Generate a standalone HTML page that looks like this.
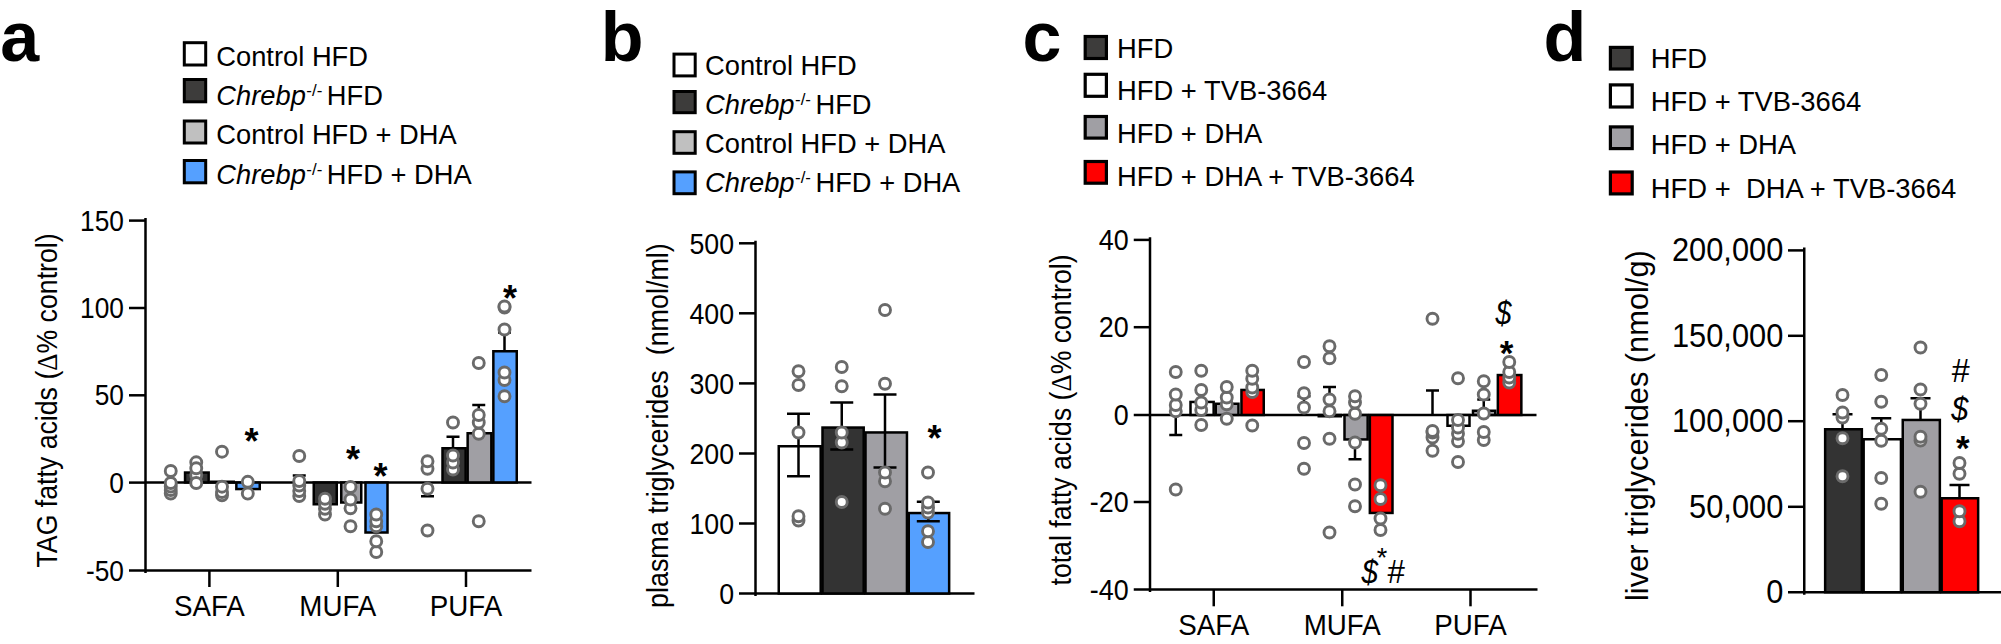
<!DOCTYPE html>
<html><head><meta charset="utf-8"><title>Figure</title>
<style>
html,body{margin:0;padding:0;background:#fff;}
svg{display:block;font-family:"Liberation Sans", sans-serif;fill:#000;}
</style></head><body>
<svg width="2001" height="644" viewBox="0 0 2001 644">
<rect x="0" y="0" width="2001" height="644" fill="#fff"/>
<text x="0.3" y="61" font-size="70" text-anchor="start" font-weight="bold" font-style="normal" >a</text>
<rect x="184.30" y="42.70" width="21.40" height="22.30" fill="#fff" stroke="#000" stroke-width="3"/>
<rect x="184.30" y="79.50" width="21.40" height="22.30" fill="#3d3c3b" stroke="#000" stroke-width="3"/>
<rect x="184.30" y="121.00" width="21.40" height="22.00" fill="#c0c0c0" stroke="#000" stroke-width="3"/>
<rect x="184.30" y="160.50" width="21.40" height="22.30" fill="#55a0ff" stroke="#000" stroke-width="3"/>
<text x="216.3" y="66" font-size="27.3" text-anchor="start" font-weight="normal" font-style="normal" >Control HFD</text>
<text x="216.3" y="104.5" font-size="27.3"><tspan font-style="italic">Chrebp</tspan><tspan font-size="16.9" dy="-9.0" dx="0.5">-/-</tspan><tspan dy="9.0" dx="4.5">HFD</tspan></text>
<text x="216.3" y="144" font-size="27.3" text-anchor="start" font-weight="normal" font-style="normal" >Control HFD + DHA</text>
<text x="216.3" y="183.5" font-size="27.3"><tspan font-style="italic">Chrebp</tspan><tspan font-size="16.9" dy="-9.0" dx="0.5">-/-</tspan><tspan dy="9.0" dx="4.5">HFD + DHA</tspan></text>
<line x1="145.5" y1="218" x2="145.5" y2="573" stroke="#000" stroke-width="2.5"/>
<line x1="129" y1="570.5" x2="531.5" y2="570.5" stroke="#000" stroke-width="2.5"/>
<line x1="129" y1="220.6" x2="145.5" y2="220.6" stroke="#000" stroke-width="2.5"/>
<text transform="translate(124,230.6) scale(0.92,1)" font-size="28.6" text-anchor="end" font-weight="normal" font-style="normal" >150</text>
<line x1="129" y1="308" x2="145.5" y2="308" stroke="#000" stroke-width="2.5"/>
<text transform="translate(124,318) scale(0.92,1)" font-size="28.6" text-anchor="end" font-weight="normal" font-style="normal" >100</text>
<line x1="129" y1="395.3" x2="145.5" y2="395.3" stroke="#000" stroke-width="2.5"/>
<text transform="translate(124,405.3) scale(0.92,1)" font-size="28.6" text-anchor="end" font-weight="normal" font-style="normal" >50</text>
<line x1="129" y1="482.6" x2="145.5" y2="482.6" stroke="#000" stroke-width="2.5"/>
<text transform="translate(124,492.6) scale(0.92,1)" font-size="28.6" text-anchor="end" font-weight="normal" font-style="normal" >0</text>
<text transform="translate(124,580.7) scale(0.92,1)" font-size="28.6" text-anchor="end" font-weight="normal" font-style="normal" >-50</text>
<line x1="145.5" y1="482.5" x2="531.5" y2="482.5" stroke="#000" stroke-width="2.5"/>
<line x1="209.4" y1="570.5" x2="209.4" y2="587" stroke="#000" stroke-width="2.5"/>
<text transform="translate(209.4,615.5) scale(0.967,1)" font-size="28.7" text-anchor="middle" font-weight="normal" font-style="normal" >SAFA</text>
<line x1="337.8" y1="570.5" x2="337.8" y2="587" stroke="#000" stroke-width="2.5"/>
<text transform="translate(337.8,615.5) scale(0.967,1)" font-size="28.7" text-anchor="middle" font-weight="normal" font-style="normal" >MUFA</text>
<line x1="466" y1="570.5" x2="466" y2="587" stroke="#000" stroke-width="2.5"/>
<text transform="translate(466,615.5) scale(0.967,1)" font-size="28.7" text-anchor="middle" font-weight="normal" font-style="normal" >PUFA</text>
<text transform="translate(56.7,567.5) rotate(-90) scale(0.921,1)" font-size="29" xml:space="preserve" >TAG fatty acids (<tspan font-family="Liberation Serif, serif">Δ</tspan>% control)</text>
<rect x="185.05" y="472.55" width="23.60" height="9.90" fill="#333333" stroke="#000" stroke-width="2.5"/>
<rect x="211.25" y="481.75" width="22.50" height="0.70" fill="#a09fa4" stroke="#000" stroke-width="2.5"/>
<rect x="236.35" y="482.55" width="23.40" height="6.50" fill="#55a0ff" stroke="#000" stroke-width="2.5"/>
<circle cx="170.75" cy="493.5" r="5.5" fill="#fff" stroke="#6a6a6a" stroke-width="2.9"/>
<circle cx="170.75" cy="490" r="5.5" fill="#fff" stroke="#6a6a6a" stroke-width="2.9"/>
<circle cx="170.75" cy="486.5" r="5.5" fill="#fff" stroke="#6a6a6a" stroke-width="2.9"/>
<circle cx="170.75" cy="483" r="5.5" fill="#fff" stroke="#6a6a6a" stroke-width="2.9"/>
<circle cx="170.75" cy="471" r="5.5" fill="#fff" stroke="#6a6a6a" stroke-width="2.9"/>
<circle cx="196.25" cy="462.3" r="5.5" fill="#fff" stroke="#6a6a6a" stroke-width="2.9"/>
<circle cx="196.25" cy="475" r="5.5" fill="#fff" stroke="#6a6a6a" stroke-width="2.9"/>
<circle cx="196.25" cy="468.3" r="5.5" fill="#fff" stroke="#6a6a6a" stroke-width="2.9"/>
<circle cx="196.25" cy="483" r="5.5" fill="#fff" stroke="#6a6a6a" stroke-width="2.9"/>
<circle cx="222" cy="495.3" r="5.5" fill="#fff" stroke="#6a6a6a" stroke-width="2.9"/>
<circle cx="222" cy="492" r="5.5" fill="#fff" stroke="#6a6a6a" stroke-width="2.9"/>
<circle cx="222" cy="486.7" r="5.5" fill="#fff" stroke="#6a6a6a" stroke-width="2.9"/>
<circle cx="222" cy="451.7" r="5.5" fill="#fff" stroke="#6a6a6a" stroke-width="2.9"/>
<circle cx="247.8" cy="493.6" r="5.5" fill="#fff" stroke="#6a6a6a" stroke-width="2.9"/>
<circle cx="247.8" cy="481.8" r="5.5" fill="#fff" stroke="#6a6a6a" stroke-width="2.9"/>
<line x1="299.25" y1="475.5" x2="299.25" y2="482.5" stroke="#000" stroke-width="2.5"/>
<line x1="292.75" y1="475.5" x2="305.75" y2="475.5" stroke="#000" stroke-width="2.5"/>
<rect x="313.75" y="482.55" width="23.00" height="21.70" fill="#333333" stroke="#000" stroke-width="2.5"/>
<rect x="341.25" y="482.55" width="20.00" height="19.95" fill="#a09fa4" stroke="#000" stroke-width="2.5"/>
<rect x="365.50" y="482.55" width="22.00" height="49.95" fill="#55a0ff" stroke="#000" stroke-width="2.5"/>
<circle cx="299.25" cy="496" r="5.5" fill="#fff" stroke="#6a6a6a" stroke-width="2.9"/>
<circle cx="299.25" cy="491" r="5.5" fill="#fff" stroke="#6a6a6a" stroke-width="2.9"/>
<circle cx="299.25" cy="485.5" r="5.5" fill="#fff" stroke="#6a6a6a" stroke-width="2.9"/>
<circle cx="299.25" cy="481" r="5.5" fill="#fff" stroke="#6a6a6a" stroke-width="2.9"/>
<circle cx="299.25" cy="456" r="5.5" fill="#fff" stroke="#6a6a6a" stroke-width="2.9"/>
<circle cx="325" cy="514.5" r="5.5" fill="#fff" stroke="#6a6a6a" stroke-width="2.9"/>
<circle cx="325" cy="508.75" r="5.5" fill="#fff" stroke="#6a6a6a" stroke-width="2.9"/>
<circle cx="325" cy="503.75" r="5.5" fill="#fff" stroke="#6a6a6a" stroke-width="2.9"/>
<circle cx="325" cy="498.75" r="5.5" fill="#fff" stroke="#6a6a6a" stroke-width="2.9"/>
<circle cx="350.5" cy="526.25" r="5.5" fill="#fff" stroke="#6a6a6a" stroke-width="2.9"/>
<circle cx="350.5" cy="508.25" r="5.5" fill="#fff" stroke="#6a6a6a" stroke-width="2.9"/>
<circle cx="350.5" cy="499.5" r="5.5" fill="#fff" stroke="#6a6a6a" stroke-width="2.9"/>
<circle cx="350.5" cy="487" r="5.5" fill="#fff" stroke="#6a6a6a" stroke-width="2.9"/>
<circle cx="376.25" cy="552" r="5.5" fill="#fff" stroke="#6a6a6a" stroke-width="2.9"/>
<circle cx="376.25" cy="541.25" r="5.5" fill="#fff" stroke="#6a6a6a" stroke-width="2.9"/>
<circle cx="376.25" cy="526.25" r="5.5" fill="#fff" stroke="#6a6a6a" stroke-width="2.9"/>
<circle cx="376.25" cy="521.25" r="5.5" fill="#fff" stroke="#6a6a6a" stroke-width="2.9"/>
<circle cx="376.25" cy="514.5" r="5.5" fill="#fff" stroke="#6a6a6a" stroke-width="2.9"/>
<line x1="427.5" y1="482.5" x2="427.5" y2="496.25" stroke="#000" stroke-width="2.5"/>
<line x1="421.0" y1="496.25" x2="434.0" y2="496.25" stroke="#000" stroke-width="2.5"/>
<line x1="453" y1="436.75" x2="453" y2="447" stroke="#000" stroke-width="2.5"/>
<line x1="446.5" y1="436.75" x2="459.5" y2="436.75" stroke="#000" stroke-width="2.5"/>
<rect x="442.50" y="448.25" width="23.15" height="34.20" fill="#333333" stroke="#000" stroke-width="2.5"/>
<line x1="478.75" y1="405" x2="478.75" y2="432" stroke="#000" stroke-width="2.5"/>
<line x1="472.25" y1="405" x2="485.25" y2="405" stroke="#000" stroke-width="2.5"/>
<rect x="467.65" y="433.25" width="23.70" height="49.20" fill="#a09fa4" stroke="#000" stroke-width="2.5"/>
<line x1="504.5" y1="332.5" x2="504.5" y2="350" stroke="#000" stroke-width="2.5"/>
<line x1="498.0" y1="332.5" x2="511.0" y2="332.5" stroke="#000" stroke-width="2.5"/>
<rect x="493.35" y="351.25" width="23.40" height="131.20" fill="#55a0ff" stroke="#000" stroke-width="2.5"/>
<circle cx="427.5" cy="530.5" r="5.5" fill="#fff" stroke="#6a6a6a" stroke-width="2.9"/>
<circle cx="427.5" cy="488.75" r="5.5" fill="#fff" stroke="#6a6a6a" stroke-width="2.9"/>
<circle cx="427.5" cy="468.75" r="5.5" fill="#fff" stroke="#6a6a6a" stroke-width="2.9"/>
<circle cx="427.5" cy="461.25" r="5.5" fill="#fff" stroke="#6a6a6a" stroke-width="2.9"/>
<circle cx="453" cy="469.5" r="5.5" fill="#fff" stroke="#6a6a6a" stroke-width="2.9"/>
<circle cx="453" cy="462.5" r="5.5" fill="#fff" stroke="#6a6a6a" stroke-width="2.9"/>
<circle cx="453" cy="455.5" r="5.5" fill="#fff" stroke="#6a6a6a" stroke-width="2.9"/>
<circle cx="453" cy="422.5" r="5.5" fill="#fff" stroke="#6a6a6a" stroke-width="2.9"/>
<circle cx="478.75" cy="521.25" r="5.5" fill="#fff" stroke="#6a6a6a" stroke-width="2.9"/>
<circle cx="478.75" cy="433.75" r="5.5" fill="#fff" stroke="#6a6a6a" stroke-width="2.9"/>
<circle cx="478.75" cy="422.5" r="5.5" fill="#fff" stroke="#6a6a6a" stroke-width="2.9"/>
<circle cx="478.75" cy="415" r="5.5" fill="#fff" stroke="#6a6a6a" stroke-width="2.9"/>
<circle cx="478.75" cy="363" r="5.5" fill="#fff" stroke="#6a6a6a" stroke-width="2.9"/>
<circle cx="504.5" cy="396.25" r="5.5" fill="#fff" stroke="#6a6a6a" stroke-width="2.9"/>
<circle cx="504.5" cy="380" r="5.5" fill="#fff" stroke="#6a6a6a" stroke-width="2.9"/>
<circle cx="504.5" cy="372.5" r="5.5" fill="#fff" stroke="#6a6a6a" stroke-width="2.9"/>
<circle cx="504.5" cy="329.5" r="5.5" fill="#fff" stroke="#6a6a6a" stroke-width="2.9"/>
<circle cx="504.5" cy="307.5" r="5.5" fill="#fff" stroke="#6a6a6a" stroke-width="2.9"/>
<circle cx="504.5" cy="306.5" r="5.5" fill="#fff" stroke="#6a6a6a" stroke-width="2.9"/>
<text x="251.5" y="454" font-size="36" text-anchor="middle" font-weight="bold" font-style="normal" >*</text>
<text x="353" y="472" font-size="36" text-anchor="middle" font-weight="bold" font-style="normal" >*</text>
<text x="380.5" y="489" font-size="36" text-anchor="middle" font-weight="bold" font-style="normal" >*</text>
<text x="510" y="311" font-size="36" text-anchor="middle" font-weight="bold" font-style="normal" >*</text>
<text x="600.7" y="60.7" font-size="70" text-anchor="start" font-weight="bold" font-style="normal" >b</text>
<rect x="674.00" y="54.10" width="21.20" height="21.80" fill="#fff" stroke="#000" stroke-width="3"/>
<rect x="674.00" y="91.50" width="21.20" height="21.20" fill="#3d3c3b" stroke="#000" stroke-width="3"/>
<rect x="674.00" y="131.70" width="21.20" height="21.60" fill="#c0c0c0" stroke="#000" stroke-width="3"/>
<rect x="674.00" y="171.90" width="21.20" height="21.80" fill="#55a0ff" stroke="#000" stroke-width="3"/>
<text x="705" y="75" font-size="27.3" text-anchor="start" font-weight="normal" font-style="normal" >Control HFD</text>
<text x="705" y="114" font-size="27.3"><tspan font-style="italic">Chrebp</tspan><tspan font-size="16.9" dy="-9.0" dx="0.5">-/-</tspan><tspan dy="9.0" dx="4.5">HFD</tspan></text>
<text x="705" y="152.5" font-size="27.3" text-anchor="start" font-weight="normal" font-style="normal" >Control HFD + DHA</text>
<text x="705" y="192" font-size="27.3"><tspan font-style="italic">Chrebp</tspan><tspan font-size="16.9" dy="-9.0" dx="0.5">-/-</tspan><tspan dy="9.0" dx="4.5">HFD + DHA</tspan></text>
<line x1="755.5" y1="240.8" x2="755.5" y2="596" stroke="#000" stroke-width="2.5"/>
<line x1="739" y1="593.5" x2="974.5" y2="593.5" stroke="#000" stroke-width="2.5"/>
<line x1="739" y1="243.3" x2="755.5" y2="243.3" stroke="#000" stroke-width="2.5"/>
<text transform="translate(734,253.5) scale(0.935,1)" font-size="28.6" text-anchor="end" font-weight="normal" font-style="normal" >500</text>
<line x1="739" y1="313.3" x2="755.5" y2="313.3" stroke="#000" stroke-width="2.5"/>
<text transform="translate(734,323.5) scale(0.935,1)" font-size="28.6" text-anchor="end" font-weight="normal" font-style="normal" >400</text>
<line x1="739" y1="383.4" x2="755.5" y2="383.4" stroke="#000" stroke-width="2.5"/>
<text transform="translate(734,393.59999999999997) scale(0.935,1)" font-size="28.6" text-anchor="end" font-weight="normal" font-style="normal" >300</text>
<line x1="739" y1="453.5" x2="755.5" y2="453.5" stroke="#000" stroke-width="2.5"/>
<text transform="translate(734,463.7) scale(0.935,1)" font-size="28.6" text-anchor="end" font-weight="normal" font-style="normal" >200</text>
<line x1="739" y1="523.5" x2="755.5" y2="523.5" stroke="#000" stroke-width="2.5"/>
<text transform="translate(734,533.7) scale(0.935,1)" font-size="28.6" text-anchor="end" font-weight="normal" font-style="normal" >100</text>
<text transform="translate(734,603.7) scale(0.935,1)" font-size="28.6" text-anchor="end" font-weight="normal" font-style="normal" >0</text>
<text transform="translate(668,608) rotate(-90) scale(0.928,1)" font-size="29" xml:space="preserve" >plasma triglycerides  (nmol/ml)</text>
<rect x="778.75" y="446.25" width="41.95" height="147.25" fill="#fff" stroke="#000" stroke-width="2.5"/>
<rect x="822.50" y="427.55" width="41.20" height="165.95" fill="#333333" stroke="#000" stroke-width="2.5"/>
<rect x="865.50" y="432.45" width="41.45" height="161.05" fill="#a09fa4" stroke="#000" stroke-width="2.5"/>
<rect x="908.75" y="513.05" width="40.40" height="80.45" fill="#55a0ff" stroke="#000" stroke-width="2.5"/>
<line x1="798.5" y1="413.75" x2="798.5" y2="476.25" stroke="#000" stroke-width="2.5"/>
<line x1="787.0" y1="413.75" x2="810.0" y2="413.75" stroke="#000" stroke-width="2.5"/>
<line x1="787.0" y1="476.25" x2="810.0" y2="476.25" stroke="#000" stroke-width="2.5"/>
<line x1="841.75" y1="402.5" x2="841.75" y2="449.5" stroke="#000" stroke-width="2.5"/>
<line x1="830.25" y1="402.5" x2="853.25" y2="402.5" stroke="#000" stroke-width="2.5"/>
<line x1="830.25" y1="449.5" x2="853.25" y2="449.5" stroke="#000" stroke-width="2.5"/>
<line x1="885" y1="394.5" x2="885" y2="467.5" stroke="#000" stroke-width="2.5"/>
<line x1="873.5" y1="394.5" x2="896.5" y2="394.5" stroke="#000" stroke-width="2.5"/>
<line x1="873.5" y1="467.5" x2="896.5" y2="467.5" stroke="#000" stroke-width="2.5"/>
<line x1="928.3" y1="501.75" x2="928.3" y2="521.25" stroke="#000" stroke-width="2.5"/>
<line x1="916.8" y1="501.75" x2="939.8" y2="501.75" stroke="#000" stroke-width="2.5"/>
<line x1="916.8" y1="521.25" x2="939.8" y2="521.25" stroke="#000" stroke-width="2.5"/>
<circle cx="798.5" cy="520.5" r="5.5" fill="#fff" stroke="#6a6a6a" stroke-width="2.9"/>
<circle cx="798.5" cy="516.25" r="5.5" fill="#fff" stroke="#6a6a6a" stroke-width="2.9"/>
<circle cx="798.5" cy="432.5" r="5.5" fill="#fff" stroke="#6a6a6a" stroke-width="2.9"/>
<circle cx="798.5" cy="385" r="5.5" fill="#fff" stroke="#6a6a6a" stroke-width="2.9"/>
<circle cx="798.5" cy="371.25" r="5.5" fill="#fff" stroke="#6a6a6a" stroke-width="2.9"/>
<circle cx="841.75" cy="502" r="5.5" fill="#fff" stroke="#6a6a6a" stroke-width="2.9"/>
<circle cx="841.75" cy="442.5" r="5.5" fill="#fff" stroke="#6a6a6a" stroke-width="2.9"/>
<circle cx="841.75" cy="432.5" r="5.5" fill="#fff" stroke="#6a6a6a" stroke-width="2.9"/>
<circle cx="841.75" cy="386.25" r="5.5" fill="#fff" stroke="#6a6a6a" stroke-width="2.9"/>
<circle cx="841.75" cy="367" r="5.5" fill="#fff" stroke="#6a6a6a" stroke-width="2.9"/>
<circle cx="885" cy="508.75" r="5.5" fill="#fff" stroke="#6a6a6a" stroke-width="2.9"/>
<circle cx="885" cy="481.25" r="5.5" fill="#fff" stroke="#6a6a6a" stroke-width="2.9"/>
<circle cx="885" cy="472.5" r="5.5" fill="#fff" stroke="#6a6a6a" stroke-width="2.9"/>
<circle cx="885" cy="383.75" r="5.5" fill="#fff" stroke="#6a6a6a" stroke-width="2.9"/>
<circle cx="885" cy="310" r="5.5" fill="#fff" stroke="#6a6a6a" stroke-width="2.9"/>
<circle cx="928" cy="542" r="5.5" fill="#fff" stroke="#6a6a6a" stroke-width="2.9"/>
<circle cx="928" cy="531.25" r="5.5" fill="#fff" stroke="#6a6a6a" stroke-width="2.9"/>
<circle cx="928" cy="512.5" r="5.5" fill="#fff" stroke="#6a6a6a" stroke-width="2.9"/>
<circle cx="928" cy="507.5" r="5.5" fill="#fff" stroke="#6a6a6a" stroke-width="2.9"/>
<circle cx="928" cy="502.5" r="5.5" fill="#fff" stroke="#6a6a6a" stroke-width="2.9"/>
<circle cx="928" cy="472.5" r="5.5" fill="#fff" stroke="#6a6a6a" stroke-width="2.9"/>
<text x="934.5" y="451" font-size="36" text-anchor="middle" font-weight="bold" font-style="normal" >*</text>
<text x="1022.6" y="60.5" font-size="70" text-anchor="start" font-weight="bold" font-style="normal" >c</text>
<rect x="1085.20" y="36.50" width="21.20" height="22.00" fill="#3d3c3b" stroke="#000" stroke-width="3.2"/>
<rect x="1085.20" y="74.30" width="21.20" height="22.00" fill="#fff" stroke="#000" stroke-width="3.2"/>
<rect x="1085.20" y="116.50" width="21.20" height="21.60" fill="#a09fa4" stroke="#000" stroke-width="3.2"/>
<rect x="1085.20" y="161.50" width="21.20" height="21.70" fill="#ff0000" stroke="#000" stroke-width="3.2"/>
<text transform="translate(1117,57.8) scale(0.985,1)" font-size="27.8" text-anchor="start" font-weight="normal" font-style="normal" >HFD</text>
<text transform="translate(1117,99.8) scale(0.985,1)" font-size="27.8" text-anchor="start" font-weight="normal" font-style="normal" >HFD + TVB-3664</text>
<text transform="translate(1117,142.7) scale(0.985,1)" font-size="27.8" text-anchor="start" font-weight="normal" font-style="normal" >HFD + DHA</text>
<text transform="translate(1117,186.3) scale(0.985,1)" font-size="27.8" text-anchor="start" font-weight="normal" font-style="normal" >HFD + DHA + TVB-3664</text>
<line x1="1150" y1="237.2" x2="1150" y2="592" stroke="#000" stroke-width="2.5"/>
<line x1="1133.75" y1="589.5" x2="1537.5" y2="589.5" stroke="#000" stroke-width="2.5"/>
<line x1="1133.75" y1="239.9" x2="1150" y2="239.9" stroke="#000" stroke-width="2.5"/>
<text transform="translate(1128.7,250.1) scale(0.94,1)" font-size="28.6" text-anchor="end" font-weight="normal" font-style="normal" >40</text>
<line x1="1133.75" y1="327.2" x2="1150" y2="327.2" stroke="#000" stroke-width="2.5"/>
<text transform="translate(1128.7,337.4) scale(0.94,1)" font-size="28.6" text-anchor="end" font-weight="normal" font-style="normal" >20</text>
<line x1="1133.75" y1="415" x2="1150" y2="415" stroke="#000" stroke-width="2.5"/>
<text transform="translate(1128.7,425.2) scale(0.94,1)" font-size="28.6" text-anchor="end" font-weight="normal" font-style="normal" >0</text>
<line x1="1133.75" y1="502" x2="1150" y2="502" stroke="#000" stroke-width="2.5"/>
<text transform="translate(1128.7,512.2) scale(0.94,1)" font-size="28.6" text-anchor="end" font-weight="normal" font-style="normal" >-20</text>
<text transform="translate(1128.7,599.7) scale(0.94,1)" font-size="28.6" text-anchor="end" font-weight="normal" font-style="normal" >-40</text>
<line x1="1150" y1="415" x2="1536.5" y2="415" stroke="#000" stroke-width="2.5"/>
<line x1="1213.75" y1="589.5" x2="1213.75" y2="606.3" stroke="#000" stroke-width="2.5"/>
<text transform="translate(1213.75,635) scale(0.967,1)" font-size="28.7" text-anchor="middle" font-weight="normal" font-style="normal" >SAFA</text>
<line x1="1342.25" y1="589.5" x2="1342.25" y2="606.3" stroke="#000" stroke-width="2.5"/>
<text transform="translate(1342.25,635) scale(0.967,1)" font-size="28.7" text-anchor="middle" font-weight="normal" font-style="normal" >MUFA</text>
<line x1="1470.5" y1="589.5" x2="1470.5" y2="606.3" stroke="#000" stroke-width="2.5"/>
<text transform="translate(1470.5,635) scale(0.967,1)" font-size="28.7" text-anchor="middle" font-weight="normal" font-style="normal" >PUFA</text>
<text transform="translate(1071,585.5) rotate(-90) scale(0.919,1)" font-size="29" xml:space="preserve" >total fatty acids (<tspan font-family="Liberation Serif, serif">Δ</tspan>% control)</text>
<line x1="1175.75" y1="415" x2="1175.75" y2="435" stroke="#000" stroke-width="2.5"/>
<line x1="1169.25" y1="435" x2="1182.25" y2="435" stroke="#000" stroke-width="2.5"/>
<rect x="1190.50" y="401.95" width="23.15" height="13.00" fill="#fff" stroke="#000" stroke-width="2.5"/>
<rect x="1215.75" y="403.75" width="22.70" height="11.20" fill="#a09fa4" stroke="#000" stroke-width="2.5"/>
<rect x="1241.45" y="389.95" width="22.30" height="25.00" fill="#ff0000" stroke="#000" stroke-width="2.5"/>
<circle cx="1175.75" cy="489.5" r="5.5" fill="#fff" stroke="#6a6a6a" stroke-width="2.9"/>
<circle cx="1175.75" cy="411.25" r="5.5" fill="#fff" stroke="#6a6a6a" stroke-width="2.9"/>
<circle cx="1175.75" cy="405" r="5.5" fill="#fff" stroke="#6a6a6a" stroke-width="2.9"/>
<circle cx="1175.75" cy="394.5" r="5.5" fill="#fff" stroke="#6a6a6a" stroke-width="2.9"/>
<circle cx="1175.75" cy="372" r="5.5" fill="#fff" stroke="#6a6a6a" stroke-width="2.9"/>
<circle cx="1201.25" cy="425" r="5.5" fill="#fff" stroke="#6a6a6a" stroke-width="2.9"/>
<circle cx="1201.25" cy="410" r="5.5" fill="#fff" stroke="#6a6a6a" stroke-width="2.9"/>
<circle cx="1201.25" cy="402.5" r="5.5" fill="#fff" stroke="#6a6a6a" stroke-width="2.9"/>
<circle cx="1201.25" cy="390" r="5.5" fill="#fff" stroke="#6a6a6a" stroke-width="2.9"/>
<circle cx="1201.25" cy="370.75" r="5.5" fill="#fff" stroke="#6a6a6a" stroke-width="2.9"/>
<circle cx="1226.75" cy="418.75" r="5.5" fill="#fff" stroke="#6a6a6a" stroke-width="2.9"/>
<circle cx="1226.75" cy="404.25" r="5.5" fill="#fff" stroke="#6a6a6a" stroke-width="2.9"/>
<circle cx="1226.75" cy="397.5" r="5.5" fill="#fff" stroke="#6a6a6a" stroke-width="2.9"/>
<circle cx="1226.75" cy="387" r="5.5" fill="#fff" stroke="#6a6a6a" stroke-width="2.9"/>
<circle cx="1252.25" cy="425.5" r="5.5" fill="#fff" stroke="#6a6a6a" stroke-width="2.9"/>
<circle cx="1252.25" cy="392" r="5.5" fill="#fff" stroke="#6a6a6a" stroke-width="2.9"/>
<circle cx="1252.25" cy="387.5" r="5.5" fill="#fff" stroke="#6a6a6a" stroke-width="2.9"/>
<circle cx="1252.25" cy="378.75" r="5.5" fill="#fff" stroke="#6a6a6a" stroke-width="2.9"/>
<circle cx="1252.25" cy="370.75" r="5.5" fill="#fff" stroke="#6a6a6a" stroke-width="2.9"/>
<line x1="1304" y1="396.25" x2="1304" y2="415" stroke="#000" stroke-width="2.5"/>
<line x1="1297.5" y1="396.25" x2="1310.5" y2="396.25" stroke="#000" stroke-width="2.5"/>
<line x1="1329.5" y1="387" x2="1329.5" y2="415" stroke="#000" stroke-width="2.5"/>
<line x1="1323.0" y1="387" x2="1336.0" y2="387" stroke="#000" stroke-width="2.5"/>
<rect x="1318.75" y="415.05" width="22.00" height="1.20" fill="#fff" stroke="#000" stroke-width="2.5"/>
<line x1="1355" y1="439.5" x2="1355" y2="459.25" stroke="#000" stroke-width="2.5"/>
<line x1="1348.5" y1="459.25" x2="1361.5" y2="459.25" stroke="#000" stroke-width="2.5"/>
<rect x="1344.50" y="415.05" width="23.15" height="24.40" fill="#a09fa4" stroke="#000" stroke-width="2.5"/>
<rect x="1369.85" y="415.05" width="22.65" height="97.90" fill="#ff0000" stroke="#000" stroke-width="2.5"/>
<circle cx="1304" cy="468.75" r="5.5" fill="#fff" stroke="#6a6a6a" stroke-width="2.9"/>
<circle cx="1304" cy="443" r="5.5" fill="#fff" stroke="#6a6a6a" stroke-width="2.9"/>
<circle cx="1304" cy="407.5" r="5.5" fill="#fff" stroke="#6a6a6a" stroke-width="2.9"/>
<circle cx="1304" cy="393.25" r="5.5" fill="#fff" stroke="#6a6a6a" stroke-width="2.9"/>
<circle cx="1304" cy="362" r="5.5" fill="#fff" stroke="#6a6a6a" stroke-width="2.9"/>
<circle cx="1329.5" cy="532.5" r="5.5" fill="#fff" stroke="#6a6a6a" stroke-width="2.9"/>
<circle cx="1329.5" cy="438.75" r="5.5" fill="#fff" stroke="#6a6a6a" stroke-width="2.9"/>
<circle cx="1329.5" cy="411.25" r="5.5" fill="#fff" stroke="#6a6a6a" stroke-width="2.9"/>
<circle cx="1329.5" cy="399.5" r="5.5" fill="#fff" stroke="#6a6a6a" stroke-width="2.9"/>
<circle cx="1329.5" cy="358.25" r="5.5" fill="#fff" stroke="#6a6a6a" stroke-width="2.9"/>
<circle cx="1329.5" cy="346.25" r="5.5" fill="#fff" stroke="#6a6a6a" stroke-width="2.9"/>
<circle cx="1355" cy="506.25" r="5.5" fill="#fff" stroke="#6a6a6a" stroke-width="2.9"/>
<circle cx="1355" cy="484.5" r="5.5" fill="#fff" stroke="#6a6a6a" stroke-width="2.9"/>
<circle cx="1355" cy="442.5" r="5.5" fill="#fff" stroke="#6a6a6a" stroke-width="2.9"/>
<circle cx="1355" cy="413.75" r="5.5" fill="#fff" stroke="#6a6a6a" stroke-width="2.9"/>
<circle cx="1355" cy="402.5" r="5.5" fill="#fff" stroke="#6a6a6a" stroke-width="2.9"/>
<circle cx="1355" cy="396.25" r="5.5" fill="#fff" stroke="#6a6a6a" stroke-width="2.9"/>
<circle cx="1380.5" cy="530" r="5.5" fill="#fff" stroke="#6a6a6a" stroke-width="2.9"/>
<circle cx="1380.5" cy="518.5" r="5.5" fill="#fff" stroke="#6a6a6a" stroke-width="2.9"/>
<circle cx="1380.5" cy="499" r="5.5" fill="#fff" stroke="#6a6a6a" stroke-width="2.9"/>
<circle cx="1380.5" cy="485.25" r="5.5" fill="#fff" stroke="#6a6a6a" stroke-width="2.9"/>
<line x1="1432.5" y1="390.5" x2="1432.5" y2="415" stroke="#000" stroke-width="2.5"/>
<line x1="1426.0" y1="390.5" x2="1439.0" y2="390.5" stroke="#000" stroke-width="2.5"/>
<rect x="1447.50" y="415.05" width="22.00" height="10.70" fill="#fff" stroke="#000" stroke-width="2.5"/>
<line x1="1483.75" y1="399.5" x2="1483.75" y2="410" stroke="#000" stroke-width="2.5"/>
<line x1="1477.25" y1="399.5" x2="1490.25" y2="399.5" stroke="#000" stroke-width="2.5"/>
<rect x="1473.00" y="410.75" width="22.25" height="4.20" fill="#a09fa4" stroke="#000" stroke-width="2.5"/>
<rect x="1497.85" y="375.05" width="23.50" height="39.90" fill="#ff0000" stroke="#000" stroke-width="2.5"/>
<circle cx="1432.5" cy="450.75" r="5.5" fill="#fff" stroke="#6a6a6a" stroke-width="2.9"/>
<circle cx="1432.5" cy="437.5" r="5.5" fill="#fff" stroke="#6a6a6a" stroke-width="2.9"/>
<circle cx="1432.5" cy="432.5" r="5.5" fill="#fff" stroke="#6a6a6a" stroke-width="2.9"/>
<circle cx="1432.5" cy="431" r="5.5" fill="#fff" stroke="#6a6a6a" stroke-width="2.9"/>
<circle cx="1432.5" cy="318.75" r="5.5" fill="#fff" stroke="#6a6a6a" stroke-width="2.9"/>
<circle cx="1458" cy="462" r="5.5" fill="#fff" stroke="#6a6a6a" stroke-width="2.9"/>
<circle cx="1458" cy="441.25" r="5.5" fill="#fff" stroke="#6a6a6a" stroke-width="2.9"/>
<circle cx="1458" cy="433.75" r="5.5" fill="#fff" stroke="#6a6a6a" stroke-width="2.9"/>
<circle cx="1458" cy="427.5" r="5.5" fill="#fff" stroke="#6a6a6a" stroke-width="2.9"/>
<circle cx="1458" cy="420" r="5.5" fill="#fff" stroke="#6a6a6a" stroke-width="2.9"/>
<circle cx="1458" cy="378.25" r="5.5" fill="#fff" stroke="#6a6a6a" stroke-width="2.9"/>
<circle cx="1483.75" cy="440" r="5.5" fill="#fff" stroke="#6a6a6a" stroke-width="2.9"/>
<circle cx="1483.75" cy="432" r="5.5" fill="#fff" stroke="#6a6a6a" stroke-width="2.9"/>
<circle cx="1483.75" cy="413.5" r="5.5" fill="#fff" stroke="#6a6a6a" stroke-width="2.9"/>
<circle cx="1483.75" cy="394.5" r="5.5" fill="#fff" stroke="#6a6a6a" stroke-width="2.9"/>
<circle cx="1483.75" cy="381.25" r="5.5" fill="#fff" stroke="#6a6a6a" stroke-width="2.9"/>
<circle cx="1509.25" cy="382.5" r="5.5" fill="#fff" stroke="#6a6a6a" stroke-width="2.9"/>
<circle cx="1509.25" cy="377.5" r="5.5" fill="#fff" stroke="#6a6a6a" stroke-width="2.9"/>
<circle cx="1509.25" cy="372" r="5.5" fill="#fff" stroke="#6a6a6a" stroke-width="2.9"/>
<circle cx="1509.25" cy="362" r="5.5" fill="#fff" stroke="#6a6a6a" stroke-width="2.9"/>
<text transform="translate(1361.6,582.7) scale(0.91,1)" font-size="32.6" text-anchor="start" font-weight="normal" font-style="italic" >$</text>
<text x="1381.9" y="567.2" font-size="27" text-anchor="middle" font-weight="normal" font-style="normal" >*</text>
<text transform="translate(1387.5,582.7) scale(0.947,1)" font-size="33" text-anchor="start" font-weight="normal" font-style="normal" >#</text>
<text transform="translate(1495.6,324.4) scale(0.87,1)" font-size="33" text-anchor="start" font-weight="normal" font-style="italic" >$</text>
<text x="1506.5" y="364.5" font-size="35" text-anchor="middle" font-weight="bold" font-style="normal" >*</text>
<text x="1543.4" y="61.4" font-size="70" text-anchor="start" font-weight="bold" font-style="normal" >d</text>
<rect x="1610.40" y="47.40" width="21.80" height="21.60" fill="#3d3c3b" stroke="#000" stroke-width="3.2"/>
<rect x="1610.40" y="84.90" width="21.80" height="22.10" fill="#fff" stroke="#000" stroke-width="3.2"/>
<rect x="1610.40" y="126.90" width="21.80" height="21.70" fill="#a09fa4" stroke="#000" stroke-width="3.2"/>
<rect x="1610.40" y="172.00" width="21.80" height="21.90" fill="#ff0000" stroke="#000" stroke-width="3.2"/>
<text x="1650.8" y="68.2" font-size="27.4" text-anchor="start" font-weight="normal" font-style="normal" >HFD</text>
<text x="1650.8" y="111" font-size="27.4" text-anchor="start" font-weight="normal" font-style="normal" >HFD + TVB-3664</text>
<text x="1650.8" y="153.5" font-size="27.4" text-anchor="start" font-weight="normal" font-style="normal" >HFD + DHA</text>
<text x="1650.8" y="197.5" font-size="27.4" xml:space="preserve">HFD +  DHA + TVB-3664</text>
<line x1="1804.25" y1="247.4" x2="1804.25" y2="594.7" stroke="#000" stroke-width="2.5"/>
<line x1="1788" y1="592.25" x2="2001" y2="592.25" stroke="#000" stroke-width="2.5"/>
<line x1="1788" y1="250.4" x2="1804.25" y2="250.4" stroke="#000" stroke-width="2.5"/>
<text transform="translate(1783.3,261.2) scale(0.945,1)" font-size="32.6" text-anchor="end" font-weight="normal" font-style="normal" >200,000</text>
<line x1="1788" y1="335.8" x2="1804.25" y2="335.8" stroke="#000" stroke-width="2.5"/>
<text transform="translate(1783.3,346.6) scale(0.945,1)" font-size="32.6" text-anchor="end" font-weight="normal" font-style="normal" >150,000</text>
<line x1="1788" y1="421.2" x2="1804.25" y2="421.2" stroke="#000" stroke-width="2.5"/>
<text transform="translate(1783.3,432.0) scale(0.945,1)" font-size="32.6" text-anchor="end" font-weight="normal" font-style="normal" >100,000</text>
<line x1="1788" y1="506.8" x2="1804.25" y2="506.8" stroke="#000" stroke-width="2.5"/>
<text transform="translate(1783.3,517.6) scale(0.945,1)" font-size="32.6" text-anchor="end" font-weight="normal" font-style="normal" >50,000</text>
<text transform="translate(1783.3,603.05) scale(0.945,1)" font-size="32.6" text-anchor="end" font-weight="normal" font-style="normal" >0</text>
<text transform="translate(1648,601) rotate(-90) scale(0.984,1)" font-size="31.3" xml:space="preserve" >liver triglycerides (nmol/g)</text>
<rect x="1825.15" y="429.25" width="36.70" height="163.00" fill="#333333" stroke="#000" stroke-width="2.5"/>
<rect x="1863.65" y="439.25" width="37.30" height="153.00" fill="#fff" stroke="#000" stroke-width="2.5"/>
<rect x="1902.75" y="419.95" width="37.10" height="172.30" fill="#a09fa4" stroke="#000" stroke-width="2.5"/>
<rect x="1941.65" y="498.25" width="36.50" height="94.00" fill="#ff0000" stroke="#000" stroke-width="2.5"/>
<line x1="1842.5" y1="414.25" x2="1842.5" y2="428" stroke="#000" stroke-width="2.5"/>
<line x1="1832.5" y1="414.25" x2="1852.5" y2="414.25" stroke="#000" stroke-width="2.5"/>
<line x1="1881.25" y1="418.25" x2="1881.25" y2="438" stroke="#000" stroke-width="2.5"/>
<line x1="1871.25" y1="418.25" x2="1891.25" y2="418.25" stroke="#000" stroke-width="2.5"/>
<line x1="1920.5" y1="398.25" x2="1920.5" y2="419" stroke="#000" stroke-width="2.5"/>
<line x1="1910.5" y1="398.25" x2="1930.5" y2="398.25" stroke="#000" stroke-width="2.5"/>
<line x1="1959.5" y1="485" x2="1959.5" y2="497" stroke="#000" stroke-width="2.5"/>
<line x1="1949.5" y1="485" x2="1969.5" y2="485" stroke="#000" stroke-width="2.5"/>
<circle cx="1842.5" cy="476.25" r="5.5" fill="#fff" stroke="#6a6a6a" stroke-width="2.9"/>
<circle cx="1842.5" cy="438.25" r="5.5" fill="#fff" stroke="#6a6a6a" stroke-width="2.9"/>
<circle cx="1842.5" cy="417.5" r="5.5" fill="#fff" stroke="#6a6a6a" stroke-width="2.9"/>
<circle cx="1842.5" cy="412.5" r="5.5" fill="#fff" stroke="#6a6a6a" stroke-width="2.9"/>
<circle cx="1842.5" cy="395" r="5.5" fill="#fff" stroke="#6a6a6a" stroke-width="2.9"/>
<circle cx="1881.25" cy="503.75" r="5.5" fill="#fff" stroke="#6a6a6a" stroke-width="2.9"/>
<circle cx="1881.25" cy="478" r="5.5" fill="#fff" stroke="#6a6a6a" stroke-width="2.9"/>
<circle cx="1881.25" cy="440.75" r="5.5" fill="#fff" stroke="#6a6a6a" stroke-width="2.9"/>
<circle cx="1881.25" cy="428.75" r="5.5" fill="#fff" stroke="#6a6a6a" stroke-width="2.9"/>
<circle cx="1881.25" cy="401.75" r="5.5" fill="#fff" stroke="#6a6a6a" stroke-width="2.9"/>
<circle cx="1881.25" cy="375" r="5.5" fill="#fff" stroke="#6a6a6a" stroke-width="2.9"/>
<circle cx="1920.5" cy="491.75" r="5.5" fill="#fff" stroke="#6a6a6a" stroke-width="2.9"/>
<circle cx="1920.5" cy="440.5" r="5.5" fill="#fff" stroke="#6a6a6a" stroke-width="2.9"/>
<circle cx="1920.5" cy="436.75" r="5.5" fill="#fff" stroke="#6a6a6a" stroke-width="2.9"/>
<circle cx="1920.5" cy="403.75" r="5.5" fill="#fff" stroke="#6a6a6a" stroke-width="2.9"/>
<circle cx="1920.5" cy="389.5" r="5.5" fill="#fff" stroke="#6a6a6a" stroke-width="2.9"/>
<circle cx="1920.5" cy="347.5" r="5.5" fill="#fff" stroke="#6a6a6a" stroke-width="2.9"/>
<circle cx="1959.5" cy="521.25" r="5.5" fill="#fff" stroke="#6a6a6a" stroke-width="2.9"/>
<circle cx="1959.5" cy="511.25" r="5.5" fill="#fff" stroke="#6a6a6a" stroke-width="2.9"/>
<circle cx="1959.5" cy="473.75" r="5.5" fill="#fff" stroke="#6a6a6a" stroke-width="2.9"/>
<circle cx="1959.5" cy="463" r="5.5" fill="#fff" stroke="#6a6a6a" stroke-width="2.9"/>
<text transform="translate(1951.8,382) scale(0.965,1)" font-size="33.5" text-anchor="start" font-weight="normal" font-style="normal" >#</text>
<text transform="translate(1951.3,419.5) scale(0.9,1)" font-size="34" text-anchor="start" font-weight="normal" font-style="italic" >$</text>
<text x="1962.8" y="460" font-size="35" text-anchor="middle" font-weight="bold" font-style="normal" >*</text>
</svg>
</body></html>
